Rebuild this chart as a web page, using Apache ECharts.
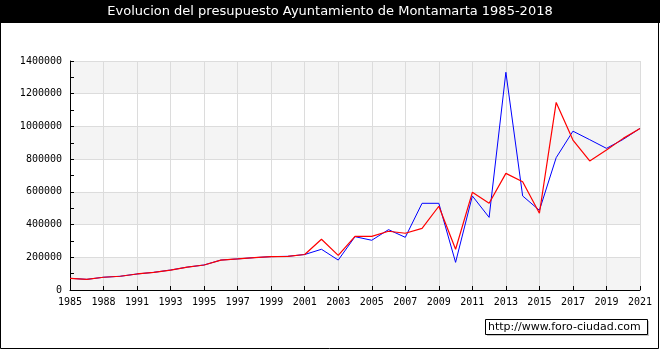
<!DOCTYPE html>
<html>
<head>
<meta charset="utf-8">
<script src="https://cdn.jsdelivr.net/npm/echarts@6/dist/echarts.min.js"></script>
<style>
html,body{margin:0;padding:0;background:#fff;}
#chart{width:660px;height:350px;}
</style>
</head>
<body>
<div id="chart"></div>
<script>
const titleText = 'Evolucion del presupuesto Ayuntamiento de Montamarta 1985-2018';
const watermark = 'http://www.foro-ciudad.com';
const years = ['1985','1986','1988','1989','1991','1992','1993','1994','1995','1996','1997','1998','1999','2000',
  '2001','2002','2003','2004','2005','2006','2007','2008','2009','2010','2011','2012','2013','2014','2015',
  '2016','2017','2018','2019','2020','2021'];
const redValues = [71500,65000,78000,84000,98000,108000,122000,140000,153000,183000,190000,198000,204000,206000,
  217000,310000,212000,328000,328000,359000,347000,377000,512000,249000,597000,530000,713000,662000,469000,
  1147000,917000,789000,856000,927000,988000];
const blueValues = [71500,65000,78000,84000,98000,108000,122000,140000,153000,183000,190000,198000,204000,206000,
  217000,249000,183000,326000,304000,369000,322000,530000,530000,169000,575000,444000,1331000,575000,487000,
  809000,971000,919000,866000,921000,988000];
const yMin = 0, yMax = 1400000, yStep = 200000;

const chart = echarts.init(document.getElementById('chart'), null, {renderer:'canvas'});
const axisFont = {fontFamily:'DejaVu Sans Mono', fontSize:10, color:'#000'};
chart.setOption({
  animation:false,
  backgroundColor:'#fff',
  grid:{left:70, right:20, top:61, bottom:60, containLabel:false},
  xAxis:{
    type:'category', data:years, boundaryGap:false,
    axisLine:{lineStyle:{color:'#000', width:1}},
    axisTick:{inside:true, length:4, interval:1, lineStyle:{color:'#000'}},
    axisLabel:Object.assign({interval:1, margin:7}, axisFont),
    splitLine:{show:true, interval:1, lineStyle:{color:'#dcdcdc', width:1}}
  },
  yAxis:{
    type:'value', min:yMin, max:yMax, interval:yStep,
    axisLine:{show:true, lineStyle:{color:'#000', width:1}},
    axisTick:{show:true, inside:true, length:4, lineStyle:{color:'#000'}},
    minorTick:{show:true, splitNumber:2, length:4, lineStyle:{color:'#000'}},
    axisLabel:Object.assign({margin:8, formatter:function(v){return String(v);}}, axisFont),
    splitLine:{show:true, lineStyle:{color:'#dcdcdc', width:1}},
    splitArea:{show:true, areaStyle:{color:['#f4f4f4','#ffffff']}}
  },
  series:[
    {type:'line', name:'Ingresos', data:blueValues, showSymbol:false, symbol:'none',
     lineStyle:{color:'#0000ff', width:1}, itemStyle:{color:'#0000ff'}},
    {type:'line', name:'Gastos', data:redValues, showSymbol:false, symbol:'none',
     lineStyle:{color:'#ff0000', width:1.2}, itemStyle:{color:'#ff0000'}}
  ],
  graphic:[
    {type:'rect', shape:{x:0, y:0, width:660, height:23}, style:{fill:'#000'}, z:100},
    {type:'text', x:330, y:12, style:{text:titleText, fill:'#fff', font:'13px "DejaVu Sans"', textAlign:'center', textVerticalAlign:'middle'}, z:101},
    {type:'rect', shape:{x:0.5, y:0.5, width:658, height:348}, style:{fill:null, stroke:'#000', lineWidth:1}, z:100},
    {type:'rect', shape:{x:487, y:321, width:162, height:15}, style:{fill:'#c8c8c8'}, z:100},
    {type:'rect', shape:{x:485.5, y:319.5, width:162, height:15}, style:{fill:'#fff', stroke:'#000', lineWidth:1}, z:101},
    {type:'text', x:488, y:327.5, style:{text:watermark, fill:'#000', font:'11px "DejaVu Sans"', textAlign:'left', textVerticalAlign:'middle'}, z:102}
  ]
});
</script>
</body>
</html>
